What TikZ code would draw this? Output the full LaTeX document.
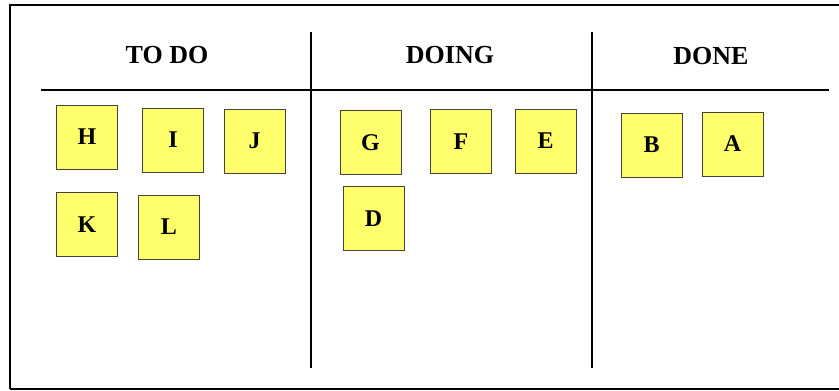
\documentclass[tikz,border=0pt]{standalone}
\usepackage{fontspec}
\setmainfont{Liberation Serif}
\definecolor{jaune}{HTML}{FFFF6B}
\definecolor{bord}{HTML}{45453D}
\begin{document}
\begin{tikzpicture}[x=1pt,y=-1pt,
    postit/.style={draw=bord, fill=jaune, line width=0.9pt,
      minimum width=61pt, minimum height=64pt, inner sep=0pt,
      font=\fontsize{24}{27}\selectfont\bfseries},
    titre/.style={font=\fontsize{26}{30}\selectfont\bfseries, inner sep=0pt},
    trait/.style={line width=1.6pt, black}]

    \useasboundingbox (0,0) rectangle (839,391);
    \def\haut{32}
    \def\bas{368}

  % Cadre
  \draw[trait] (10,389) |- (850,5);
  \draw[trait] (10,389) -- (850,389);

  % Colonnes
  \coordinate (c1) at (311,\haut);
  \coordinate (c2) at (592,\haut);
  \draw[trait] (c1) -- (311,\bas);
  \draw[trait] (c2) -- (592,\bas);
  \coordinate (g) at (41,90);
  \coordinate (d) at (829,90);
  \draw[trait] (g) -- (d);

  % Titres
  \node[titre] (todo) at (167,55) {TO DO};
  \node[titre] (doing) at (450,55) {DOING};
  \node[titre] (done) at (711,56) {DONE};

  % Cartes
  \foreach \nom/\x/\y in {H/87/137, I/173/140, J/254.5/141, K/87/224.5,
      L/169/227, G/370.5/142.5, F/461/141.5, E/545.5/141, D/373.5/218.5,
      B/651.5/145, A/732.5/144}
    \node[postit] (\nom) at (\x,\y) {\nom};
  \end{tikzpicture}
\end{document}
